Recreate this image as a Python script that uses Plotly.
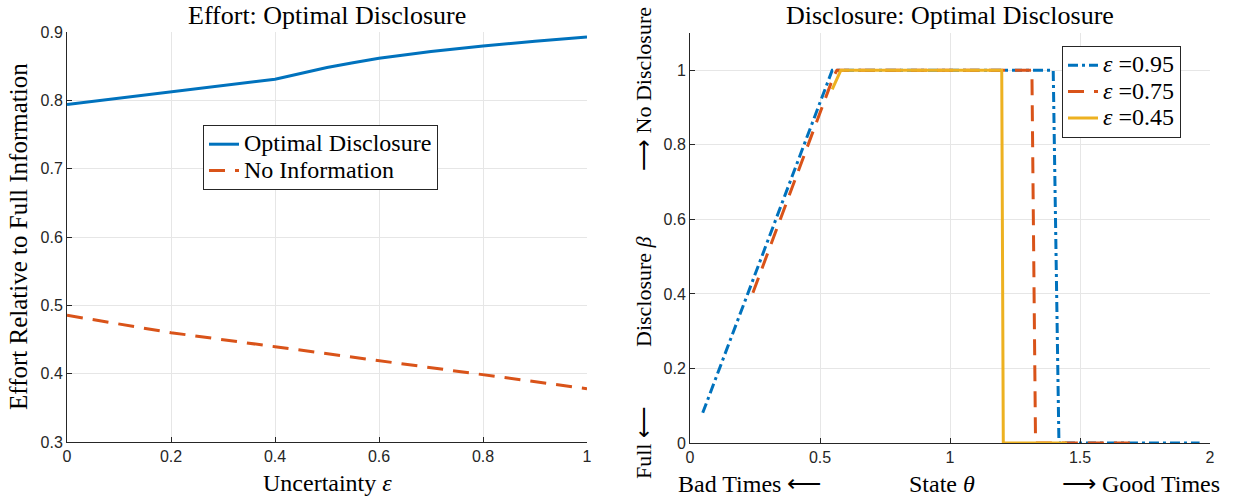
import plotly.graph_objects as go

# ---------------- data ----------------
# Left panel: effort relative to full information vs uncertainty
eps_grid = [0.0, 0.1, 0.2, 0.3, 0.4, 0.415, 0.45, 0.5, 0.55, 0.6, 0.7, 0.8, 0.9, 1.0]
effort_optimal = [0.794, 0.803, 0.8126, 0.822, 0.831, 0.8335, 0.8395, 0.848, 0.855, 0.8617, 0.8714, 0.8796, 0.8864, 0.8927]
eps_noinfo = [0.0, 0.2, 0.4, 0.6, 0.8, 1.0]
effort_noinfo = [0.4854, 0.460, 0.4395, 0.419, 0.399, 0.378]

# Right panel: disclosure beta vs state theta for three uncertainty levels
theta_095 = [0.049, 0.547, 1.397, 1.419, 1.96]
beta_095 = [0.081, 1.0, 1.0, 0.0, 0.0]
theta_075 = [0.242, 0.553, 0.565, 1.315, 1.329, 1.70]
beta_075 = [0.403, 0.985, 1.0, 1.0, 0.0, 0.0]
theta_045 = [0.547, 0.58, 1.199, 1.205, 1.45]
beta_045 = [0.949, 1.0, 1.0, 0.0, 0.0]

left_xticks = [0, 0.2, 0.4, 0.6, 0.8, 1]
left_xticklabels = ["0", "0.2", "0.4", "0.6", "0.8", "1"]
left_yticks = [0.3, 0.4, 0.5, 0.6, 0.7, 0.8, 0.9]
left_yticklabels = ["0.3", "0.4", "0.5", "0.6", "0.7", "0.8", "0.9"]
right_xticks = [0, 0.5, 1, 1.5, 2]
right_xticklabels = ["0", "0.5", "1", "1.5", "2"]
right_yticks = [0, 0.2, 0.4, 0.6, 0.8, 1]
right_yticklabels = ["0", "0.2", "0.4", "0.6", "0.8", "1"]

# ---------------- style ----------------
BLUE = "#0072BD"
RED = "#D95319"
YELLOW = "#EDB120"
SERIF = "Liberation Serif, Times New Roman, serif"
SANS = "Liberation Sans, Arial, sans-serif"
AXC = "#262626"
GRID = "#e6e6e6"
W, H = 1236, 496


def lg(text):
    return '<span style="font-size:24px">' + text + '</span>'


fig = go.Figure()

fig.add_trace(go.Scatter(x=eps_grid, y=effort_optimal, mode="lines", name=lg("Optimal Disclosure"),
                         line=dict(color=BLUE, width=3), xaxis="x", yaxis="y", legend="legend"))
fig.add_trace(go.Scatter(x=eps_noinfo, y=effort_noinfo, mode="lines", name=lg("No Information"),
                         line=dict(color=RED, width=3, dash="16px,10px"), xaxis="x", yaxis="y",
                         legend="legend"))

fig.add_trace(go.Scatter(x=theta_095, y=beta_095, mode="lines", name=lg("<i>ε</i> =0.95"),
                         line=dict(color=BLUE, width=3, dash="10px,4px,3px,4px"),
                         xaxis="x2", yaxis="y2", legend="legend2"))
fig.add_trace(go.Scatter(x=theta_075, y=beta_075, mode="lines", name=lg("<i>ε</i> =0.75"),
                         line=dict(color=RED, width=3, dash="16px,10px"),
                         xaxis="x2", yaxis="y2", legend="legend2"))
fig.add_trace(go.Scatter(x=theta_045, y=beta_045, mode="lines", name=lg("<i>ε</i> =0.45"),
                         line=dict(color=YELLOW, width=3),
                         xaxis="x2", yaxis="y2", legend="legend2"))


def px_x(p):
    return p / W


def px_y(p):
    return 1 - p / H


axis_common = dict(showline=True, linecolor=AXC, linewidth=1, ticks="inside", ticklen=5,
                   tickcolor=AXC, showgrid=True, gridcolor=GRID, gridwidth=1, zeroline=False,
                   tickfont=dict(family=SANS, size=16, color=AXC), mirror=False,
                   automargin=False)

fig.update_layout(
    template="none",
    width=W, height=H,
    margin=dict(l=0, r=0, t=0, b=0),
    paper_bgcolor="white", plot_bgcolor="white",
    xaxis=dict(domain=[px_x(67), px_x(587)], range=[0, 1], tickvals=left_xticks,
               ticktext=left_xticklabels, anchor="y", **axis_common),
    yaxis=dict(domain=[px_y(442), px_y(32)], range=[0.3, 0.9], tickvals=left_yticks,
               ticktext=left_yticklabels, anchor="x", **axis_common),
    xaxis2=dict(domain=[px_x(690), px_x(1210)], range=[0, 2], tickvals=right_xticks,
                ticktext=right_xticklabels, anchor="y2", **axis_common),
    yaxis2=dict(domain=[px_y(443), px_y(33)], range=[0, 1.1], tickvals=right_yticks,
                ticktext=right_yticklabels, anchor="x2", **axis_common),
    legend=dict(x=px_x(203), y=px_y(125), xanchor="left", yanchor="top",
                bgcolor="white", bordercolor=AXC, borderwidth=1,
                font=dict(family=SERIF, size=18, color="black"), tracegroupgap=0),
    legend2=dict(x=px_x(1062), y=px_y(46), xanchor="left", yanchor="top",
                 bgcolor="white", bordercolor=AXC, borderwidth=1,
                 font=dict(family=SERIF, size=18, color="black"), tracegroupgap=0),
    showlegend=True,
)

ann = []


def add_text(text, x, y, size=24, angle=0):
    ann.append(dict(text=text, x=px_x(x), y=px_y(y), xref="paper", yref="paper",
                    xanchor="center", yanchor="middle", showarrow=False, textangle=angle,
                    font=dict(family=SERIF, size=size, color="black")))


add_text("Effort: Optimal Disclosure", 327, 15, size=26)
add_text("Disclosure: Optimal Disclosure", 950, 15, size=26)
add_text("Uncertainty <i>ε</i>", 327, 483)
add_text("Effort Relative to Full Information", 19, 237, size=25, angle=-90)
add_text("Bad Times ⟵", 749, 484)
add_text("State <i>θ</i>", 942, 484)
add_text("⟶ Good Times", 1141, 484)
add_text("Full ⟵", 643, 443, size=22, angle=-90)
add_text("Disclosure <i>β</i>", 643, 292, size=22, angle=-90)
add_text("⟶ No Disclosure", 643, 89, size=22, angle=-90)

fig.update_layout(annotations=ann)

fig.write_html("out.html", config={"displayModeBar": False},
               post_script="document.body.style.margin='0';document.body.style.overflow='hidden';")
